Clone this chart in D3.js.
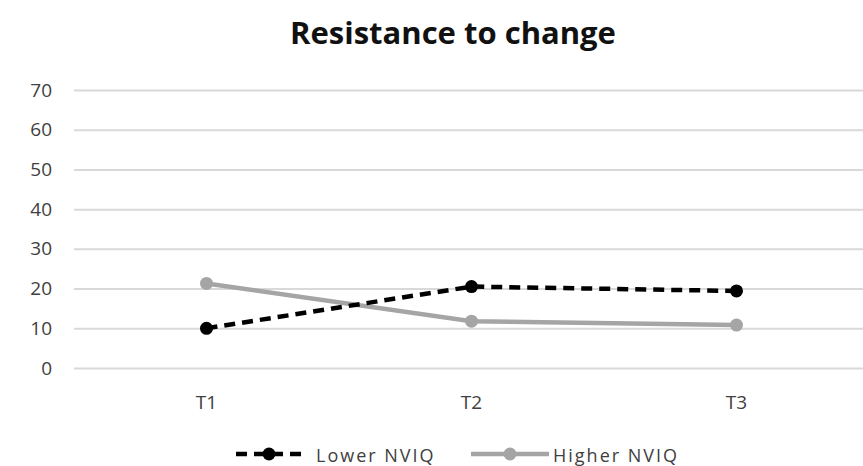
<!DOCTYPE html>
<html>
<head>
<meta charset="utf-8">
<script src="https://cdn.jsdelivr.net/npm/d3@7"></script>
<style>
    body { margin: 0; background: #fff; }
    text { font-family: "Open Sans", "Liberation Sans", sans-serif; }
</style>
</head>
<body>
<div id="chart"></div>
<script>
// data
const categories = ['T1', 'T2', 'T3'];
const lowerNviq = [10, 20.5, 19.4];
const higherNviq = [21.3, 11.8, 10.8];
const yTicks = [0, 10, 20, 30, 40, 50, 60, 70];

const W = 863;
const H = 466;

const svg = d3.select('#chart')
    .append('svg')
    .attr('width', W)
    .attr('height', H);

const x = d3.scalePoint()
    .domain(categories)
    .range([74, 869])
    .padding(0.5);

const y = d3.scaleLinear()
    .domain([0, 70])
    .range([368, 90]);

// title
svg.append('text')
    .attr('x', 453)
    .attr('y', 44)
    .attr('text-anchor', 'middle')
    .attr('font-size', 31)
    .attr('font-weight', 'bold')
    .attr('fill', '#111')
    .text('Resistance to change');

// grid + y labels
const yAxis = svg.append('g')
    .attr('transform', 'translate(74,0)')
    .call(d3.axisLeft(y).tickValues(yTicks).tickSize(-(W - 74)).tickPadding(22));
yAxis.select('.domain').remove();
yAxis.selectAll('.tick line').attr('stroke', '#d9d9d9').attr('stroke-width', 2);
yAxis.selectAll('.tick text')
    .attr('fill', '#404040')
    .attr('font-size', 19);

// x labels
svg.append('g')
    .selectAll('text')
    .data(categories)
    .enter()
    .append('text')
    .attr('x', d => x(d))
    .attr('y', 409)
    .attr('text-anchor', 'middle')
    .attr('font-size', 19)
    .attr('fill', '#404040')
    .text(d => d);

const line = d3.line()
    .x((d, i) => x(categories[i]))
    .y(d => y(d));

const series = [
    { name: 'Higher NVIQ', values: higherNviq, color: '#a5a5a5', dash: null },
    { name: 'Lower NVIQ', values: lowerNviq, color: '#000', dash: '11,7' },
];

series.forEach((s) => {
    svg.append('path')
        .attr('d', line(s.values))
        .attr('fill', 'none')
        .attr('stroke', s.color)
        .attr('stroke-width', 4.5)
        .attr('stroke-dasharray', s.dash);
    svg.append('g')
        .selectAll('circle')
        .data(s.values)
        .enter()
        .append('circle')
        .attr('cx', (d, i) => x(categories[i]))
        .attr('cy', d => y(d))
        .attr('r', 6.5)
        .attr('fill', s.color);
});

// legend
const legendItems = [
    { name: 'Lower NVIQ', color: '#000', dash: '11,7', x0: 236, x1: 302, tx: 316 },
    { name: 'Higher NVIQ', color: '#a5a5a5', dash: null, x0: 471, x1: 549, tx: 553 },
];
const lg = svg.append('g');
legendItems.forEach((it) => {
    lg.append('line')
        .attr('x1', it.x0).attr('x2', it.x1)
        .attr('y1', 454).attr('y2', 454)
        .attr('stroke', it.color)
        .attr('stroke-width', 4.5)
        .attr('stroke-dasharray', it.dash);
    lg.append('circle')
        .attr('cx', (it.x0 + it.x1) / 2)
        .attr('cy', 454)
        .attr('r', 6.5)
        .attr('fill', it.color);
    lg.append('text')
        .attr('x', it.tx)
        .attr('y', 462)
        .attr('font-size', 18)
        .attr('letter-spacing', 2)
        .attr('fill', '#404040')
        .text(it.name);
});
</script>
</body>
</html>
